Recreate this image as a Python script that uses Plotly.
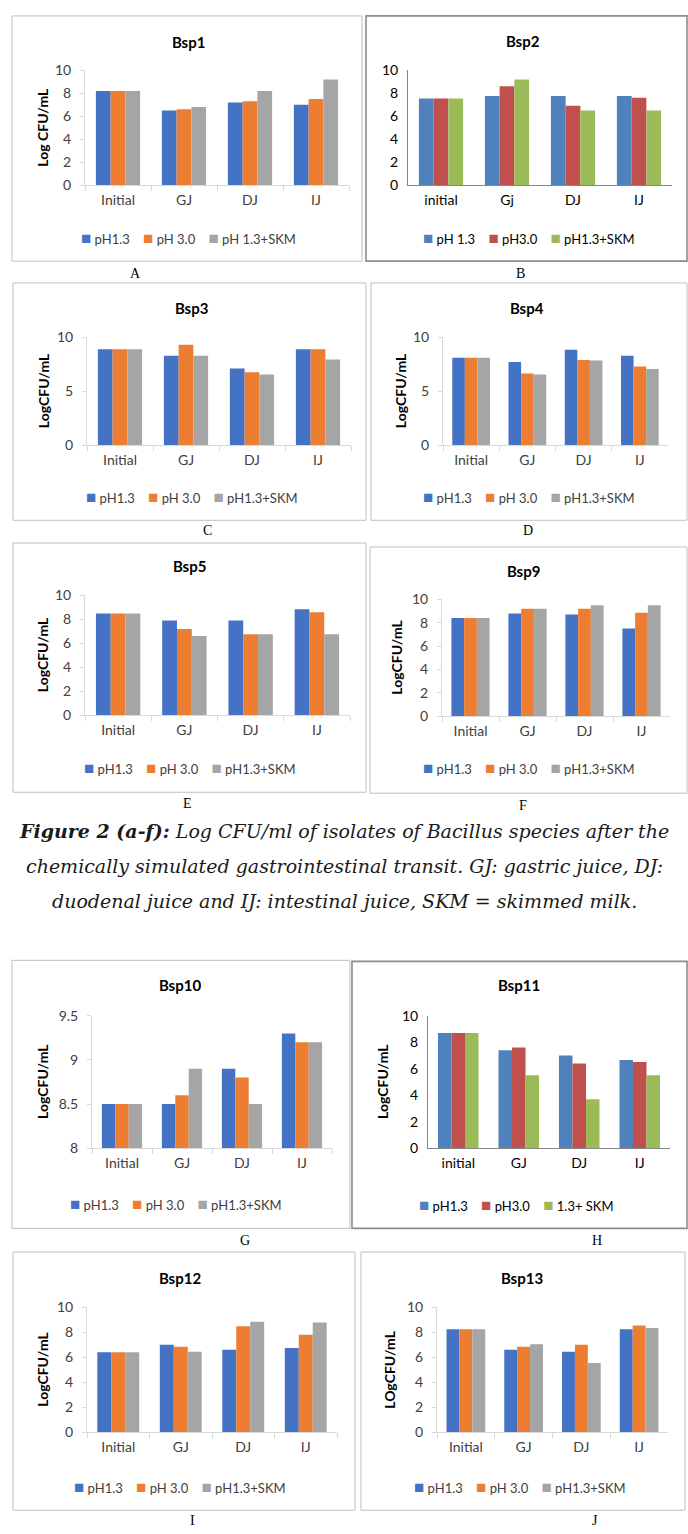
import plotly.graph_objects as go

W, H = 688, 1534

# ---------------- data ----------------
categories = ["Initial", "GJ", "DJ", "IJ"]
categories_b = ["initial", "Gj", "DJ", "IJ"]
categories_h = ["initial", "GJ", "DJ", "IJ"]

bsp1_ph13 = [8.2, 6.5, 7.2, 7.0]
bsp1_ph30 = [8.2, 6.6, 7.3, 7.5]
bsp1_skm = [8.2, 6.8, 8.2, 9.2]

bsp2_ph13 = [7.55, 7.75, 7.75, 7.75]
bsp2_ph30 = [7.55, 8.6, 6.9, 7.6]
bsp2_skm = [7.55, 9.2, 6.5, 6.5]

bsp3_ph13 = [8.9, 8.3, 7.1, 8.9]
bsp3_ph30 = [8.9, 9.3, 6.75, 8.9]
bsp3_skm = [8.9, 8.3, 6.55, 7.95]

bsp4_ph13 = [8.1, 7.7, 8.85, 8.3]
bsp4_ph30 = [8.1, 6.65, 7.9, 7.3]
bsp4_skm = [8.1, 6.55, 7.85, 7.05]

bsp5_ph13 = [8.5, 7.9, 7.9, 8.85]
bsp5_ph30 = [8.5, 7.2, 6.75, 8.6]
bsp5_skm = [8.5, 6.6, 6.75, 6.75]

bsp9_ph13 = [8.4, 8.8, 8.7, 7.5]
bsp9_ph30 = [8.4, 9.2, 9.2, 8.85]
bsp9_skm = [8.4, 9.2, 9.5, 9.5]

bsp10_ph13 = [8.5, 8.5, 8.9, 9.3]
bsp10_ph30 = [8.5, 8.6, 8.8, 9.2]
bsp10_skm = [8.5, 8.9, 8.5, 9.2]

bsp11_ph13 = [8.7, 7.4, 7.0, 6.65]
bsp11_ph30 = [8.7, 7.6, 6.4, 6.5]
bsp11_skm = [8.7, 5.5, 3.7, 5.5]

bsp12_ph13 = [6.4, 7.0, 6.6, 6.75]
bsp12_ph30 = [6.4, 6.85, 8.5, 7.8]
bsp12_skm = [6.4, 6.45, 8.85, 8.8]

bsp13_ph13 = [8.25, 6.6, 6.45, 8.25]
bsp13_ph30 = [8.25, 6.85, 7.0, 8.55]
bsp13_skm = [8.25, 7.05, 5.55, 8.35]

names_a = ["pH1.3", "pH 3.0", "pH 1.3+SKM"]
names_b = ["pH 1.3", "pH3.0", "pH1.3+SKM"]
names_std = ["pH1.3", "pH 3.0", "pH1.3+SKM"]
names_h = ["pH1.3", "pH3.0", "1.3+ SKM"]

caption_lines = [
    "<b><i>Figure 2 (a-f):</i></b><i> Log CFU/ml of isolates of Bacillus species after the</i>",
    "<i>chemically simulated gastrointestinal transit. GJ: gastric juice, DJ:</i>",
    "<i>duodenal juice and IJ: intestinal juice, SKM = skimmed milk.</i>",
]

# ---------------- styles ----------------
NEW = ["#4472C4", "#ED7D31", "#A5A5A5"]
OLD = ["#4F81BD", "#C0504D", "#9BBB59"]
FONT = "Lato"

panels = [
    dict(title="Bsp1", ytitle="Log CFU/mL", cats=categories, vals=[bsp1_ph13, bsp1_ph30, bsp1_skm],
         names=names_a, style="new", box=(12, 7, 362, 255), plot=(85, 62, 349, 178), tx=188, ty=33,
         yx=43, lx=80, ly=231, cap="A", cx=135, cy=267, rng=[0, 10], dt=2),
    dict(title="Bsp2", ytitle=None, cats=categories_b, vals=[bsp2_ph13, bsp2_ph30, bsp2_skm],
         names=names_b, style="old", box=(366, 7, 687, 255), plot=(408, 62, 672, 178), tx=523, ty=32,
         yx=None, lx=422, ly=231, cap="B", cx=520, cy=267, rng=[0, 10], dt=2),
    dict(title="Bsp3", ytitle="LogCFU/mL", cats=categories, vals=[bsp3_ph13, bsp3_ph30, bsp3_skm],
         names=names_std, style="new", box=(13, 277, 366, 517), plot=(87, 332, 351, 441), tx=191, ty=302,
         yx=43, lx=85, ly=493, cap="C", cx=207, cy=527, rng=[0, 10], dt=5),
    dict(title="Bsp4", ytitle="LogCFU/mL", cats=categories, vals=[bsp4_ph13, bsp4_ph30, bsp4_skm],
         names=names_std, style="new", box=(371, 277, 687, 517), plot=(443, 332, 668, 441), tx=527, ty=302,
         yx=400, lx=422, ly=493, cap="D", cx=528, cy=527, rng=[0, 10], dt=5),
    dict(title="Bsp5", ytitle="LogCFU/mL", cats=categories, vals=[bsp5_ph13, bsp5_ph30, bsp5_skm],
         names=names_std, style="new", box=(13, 540, 366, 792), plot=(85, 593, 350, 714), tx=189, ty=563,
         yx=42, lx=83, ly=767, cap="E", cx=187, cy=803, rng=[0, 10], dt=2),
    dict(title="Bsp9", ytitle="LogCFU/mL", cats=categories, vals=[bsp9_ph13, bsp9_ph30, bsp9_skm],
         names=names_std, style="new", box=(370, 544, 687, 793), plot=(442, 597, 670, 715), tx=523, ty=568,
         yx=397, lx=422, ly=767, cap="F", cx=523, cy=805, rng=[0, 10], dt=2),
    dict(title="Bsp10", ytitle="LogCFU/mL", cats=categories, vals=[bsp10_ph13, bsp10_ph30, bsp10_skm],
         names=names_std, style="new", box=(12, 962, 350, 1233), plot=(92, 1018, 332, 1152), tx=180, ty=987,
         yx=43, lx=69, ly=1208, cap="G", cx=245, cy=1245, rng=[8, 9.5], dt=0.5),
    dict(title="Bsp11", ytitle="LogCFU/mL", cats=categories_h, vals=[bsp11_ph13, bsp11_ph30, bsp11_skm],
         names=names_h, style="old", box=(352, 963, 687, 1233), plot=(428, 1018, 670, 1152), tx=519, ty=987,
         yx=383, lx=418, ly=1209, cap="H", cx=597, cy=1245, rng=[0, 10], dt=2),
    dict(title="Bsp12", ytitle="LogCFU/mL", cats=categories, vals=[bsp12_ph13, bsp12_ph30, bsp12_skm],
         names=names_std, style="new", box=(13, 1257, 355, 1518), plot=(87, 1313, 337, 1439), tx=180, ty=1283,
         yx=43, lx=73, ly=1494, cap="I", cx=192, cy=1528, rng=[0, 10], dt=2),
    dict(title="Bsp13", ytitle="LOgCFU/mL", cats=categories, vals=[bsp13_ph13, bsp13_ph30, bsp13_skm],
         names=names_std, style="new", box=(361, 1257, 685, 1518), plot=(437, 1313, 668, 1439), tx=522, ty=1283,
         yx=390, lx=413, ly=1494, cap="J", cx=595, cy=1528, rng=[0, 10], dt=2),
]


def px(x):
    return x / W


def py(y):
    return 1 - y / H


fig = go.Figure()
layout = dict(
    width=W, height=H, margin=dict(l=0, r=0, t=0, b=0),
    paper_bgcolor="white", plot_bgcolor="white",
    barmode="group", bargap=0.33, bargroupgap=0, showlegend=False,
    font=dict(family=FONT, color="#404040"),
)
shapes, annotations = [], []
NB = "\u00a0"

for i, p in enumerate(panels, start=1):
    sfx = "" if i == 1 else str(i)
    colors = NEW if p["style"] == "new" else OLD
    for k in range(3):
        fig.add_trace(go.Bar(
            x=p["cats"], y=p["vals"][k], name=p["names"][k],
            marker=dict(color=colors[k], line=dict(width=0)),
            xaxis="x" + sfx, yaxis="y" + sfx, showlegend=False,
        ))
    l, t, r, b = p["plot"]
    new = p["style"] == "new"
    axcol = "#D9D9D9" if new else "#868686"
    txtcol = "#404040" if new else "#000000"
    layout["xaxis" + sfx] = dict(
        domain=[px(l), px(r)], anchor="y" + sfx, type="category",
        showline=True, linecolor=axcol, linewidth=1,
        ticks="outside" if new else "", tickson="boundaries", ticklen=5, tickcolor=axcol,
        showgrid=False, zeroline=False, fixedrange=True,
        tickfont=dict(size=14, color=txtcol, family=FONT), ticklabelstandoff=2,
    )
    layout["yaxis" + sfx] = dict(
        domain=[py(b), py(t)], anchor="x" + sfx, range=p["rng"], dtick=p["dt"],
        tick0=p["rng"][0],
        showline=True, linecolor=axcol, linewidth=1,
        ticks="outside" if new else "", ticklen=4, tickcolor=axcol,
        showgrid=False, zeroline=False, fixedrange=True,
        tickfont=dict(size=14, color=txtcol, family=FONT), ticklabelstandoff=6,
    )
    # legend (Excel-style compact key)
    parts = []
    for k in range(3):
        parts.append("<span style='color:%s;font-size:17px'>\u25a0</span>%s%s" % (colors[k], NB, p["names"][k]))
    annotations.append(dict(
        text=(NB * 4).join(parts), x=px(p["lx"] - 1), y=py(p["ly"]), xref="paper", yref="paper",
        showarrow=False, xanchor="left", yanchor="middle",
        font=dict(size=13, color=txtcol, family=FONT),
    ))
    bx0, by0, bx1, by1 = p["box"]
    shapes.append(dict(
        type="rect", xref="paper", yref="paper", x0=px(bx0), x1=px(bx1), y0=py(by1), y1=py(by0),
        line=dict(color="#BFBFBF" if new else "#8C8C8C", width=1 if new else 1.6), layer="below",
    ))
    annotations.append(dict(
        text="<b>" + p["title"] + "</b>", x=px(p["tx"]), y=py(p["ty"]), xref="paper", yref="paper",
        showarrow=False, xanchor="center", yanchor="middle",
        font=dict(size=15, color="#000000", family=FONT),
    ))
    if p["ytitle"]:
        annotations.append(dict(
            text="<b>" + p["ytitle"] + "</b>", x=px(p["yx"]), y=py((t + b) / 2), xref="paper", yref="paper",
            showarrow=False, xanchor="center", yanchor="middle", textangle=-90,
            font=dict(size=14, color="#000000", family=FONT),
        ))
    annotations.append(dict(
        text=p["cap"], x=px(p["cx"]), y=py(p["cy"]), xref="paper", yref="paper",
        showarrow=False, xanchor="center", yanchor="middle",
        font=dict(size=14, color="#000000", family="Liberation Serif"),
    ))

for j, line in enumerate(caption_lines):
    annotations.append(dict(
        text=line, x=0.5, y=py(831 + 35.5 * j), xref="paper", yref="paper",
        showarrow=False, xanchor="center", yanchor="middle",
        font=dict(size=19, color="#1a1a1a", family="DejaVu Serif"),
    ))

layout["shapes"] = shapes
layout["annotations"] = annotations
fig.update_layout(**layout)
fig.write_html("out.html", config={"displayModeBar": False},
               post_script="document.body.style.margin='0px';")
